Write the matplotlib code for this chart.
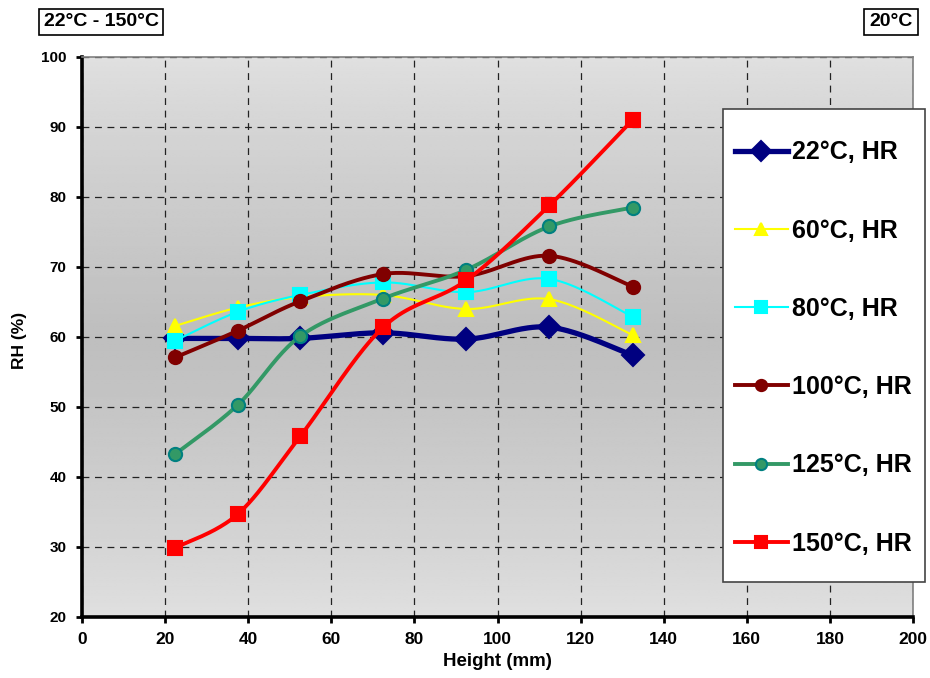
"""RH profiles vs. height for several chamber temperatures."""

import numpy as np
import matplotlib

matplotlib.use("Agg")
import matplotlib.pyplot as plt  # noqa: E402
from matplotlib import font_manager  # noqa: E402
from matplotlib.lines import Line2D  # noqa: E402
from matplotlib.patches import Rectangle  # noqa: E402

height_mm = [22.5, 37.5, 52.5, 72.5, 92.5, 112.5, 132.5]
rh_22 = [59.8, 59.8, 59.8, 60.6, 59.7, 61.4, 57.4]
rh_60 = [61.6, 64.2, 65.7, 66.0, 64.0, 65.4, 60.3]
rh_80 = [59.5, 63.6, 66.0, 67.8, 66.4, 68.3, 62.9]
rh_100 = [57.1, 60.9, 65.1, 69.0, 68.7, 71.6, 67.2]
rh_125 = [43.3, 50.3, 60.1, 65.5, 69.6, 75.8, 78.5]
rh_150 = [29.9, 34.7, 45.8, 61.4, 68.1, 78.8, 91.0]
series_labels = ["22°C, HR", "60°C, HR", "80°C, HR", "100°C, HR", "125°C, HR", "150°C, HR"]

x_ticks = list(range(0, 201, 20))
y_ticks = list(range(20, 101, 10))

# line colour, line width, marker, marker size, face, edge
styles = [
    dict(color="#000080", lw=3.8, marker="D", ms=11.5, mfc="#000080", mec="#000080"),
    dict(color="#ffff00", lw=1.5, marker="^", ms=10.5, mfc="#ffff00", mec="#ffff00"),
    dict(color="#00ffff", lw=1.5, marker="s", ms=9.5, mfc="#00ffff", mec="#00ffff"),
    dict(color="#800000", lw=2.8, marker="o", ms=9.5, mfc="#800000", mec="#800000"),
    dict(color="#339966", lw=2.8, marker="o", ms=9.5, mfc="#339966", mec="#008080"),
    dict(color="#ff0000", lw=2.8, marker="s", ms=9.5, mfc="#ff0000", mec="#ff0000"),
]


def pick_family(name, fallback="Liberation Sans"):
    try:
        font_manager.findfont(font_manager.FontProperties(family=name, weight="bold"),
                              fallback_to_default=False)
        return name
    except ValueError:
        return fallback


def smooth(x, y, steps=40):
    """Bezier smoothing through every point, tangents from neighbours."""
    p = np.column_stack([x, y]).astype(float)
    n = len(p)
    t = np.linspace(0, 1, steps)[1:, None]
    out = [p[:1]]
    for i in range(n - 1):
        p0 = p[max(i - 1, 0)]
        p1, p2 = p[i], p[i + 1]
        p3 = p[min(i + 2, n - 1)]
        c1 = p1 + (p2 - p0) / 6
        c2 = p2 - (p3 - p1) / 6
        seg = ((1 - t) ** 3 * p1 + 3 * (1 - t) ** 2 * t * c1
               + 3 * (1 - t) * t ** 2 * c2 + t ** 3 * p2)
        out.append(seg)
    out = np.vstack(out)
    return out[:, 0], out[:, 1]


sans = "Liberation Sans"
narrow = pick_family("Liberation Sans Narrow")
plt.rcParams["font.family"] = [sans, "DejaVu Sans"]

fig = plt.figure(figsize=(9.3, 6.78), dpi=100)
W, H = 930, 678
ax = fig.add_axes([82 / W, 1 - 617 / H, (913 - 82) / W, (617 - 57) / H])

# plot area fill: light at top and bottom, darker through the middle
t = np.linspace(0, 1, 256)
shade = 0.88 - 0.135 * (1 - np.abs(2 * t - 1)) ** 0.8
grad = np.repeat(shade[:, None], 2, axis=1)
ax.imshow(grad, extent=[0, 200, 20, 100], origin="lower", aspect="auto",
          cmap="gray", vmin=0, vmax=1, zorder=0, interpolation="bilinear")

ax.set_xlim(0, 200)
ax.set_ylim(20, 100)
ax.set_xticks(x_ticks)
ax.set_yticks(y_ticks)
ax.grid(True, color="#222222", linestyle=(0, (5.5, 4.5)), linewidth=0.9, zorder=1)
ax.set_axisbelow(True)

all_series = [rh_22, rh_60, rh_80, rh_100, rh_125, rh_150]
for k, (values, st) in enumerate(zip(all_series, styles)):
    xs, ys = smooth(height_mm, values)
    ax.plot(xs, ys, color=st["color"], lw=st["lw"], solid_capstyle="round", zorder=3 + 2 * k)
    ax.plot(height_mm, values, linestyle="none", marker=st["marker"], ms=st["ms"],
            mfc=st["mfc"], mec=st["mec"], mew=1.5, zorder=4 + 2 * k)

for side in ("top", "right"):
    ax.spines[side].set_color("#808080")
    ax.spines[side].set_linewidth(1.2)
for side in ("left", "bottom"):
    ax.spines[side].set_color("black")
    ax.spines[side].set_linewidth(2.6)

ax.tick_params(axis="both", direction="out", length=4, width=2, color="black", pad=7)
for lab in ax.get_yticklabels():
    lab.set_fontfamily(sans)
    lab.set_fontweight("bold")
    lab.set_fontsize(11)
for lab in ax.get_xticklabels():
    lab.set_fontfamily(narrow)
    lab.set_fontweight("bold")
    lab.set_fontsize(12.5)

ax.set_xlabel("Height (mm)", fontfamily=narrow, fontweight="bold", fontsize=13.5)
ax.xaxis.set_label_coords(0.5, -(662 - 617) / 560)
ax.xaxis.label.set_va("center")
ax.set_ylabel("RH (%)", fontfamily=sans, fontweight="bold", fontsize=12.5)
ax.yaxis.set_label_coords(-(82 - 20) / 831, 0.5 - (340 - 337) / 560)
ax.yaxis.label.set_va("center")

# legend box sits over the right edge of the plot area
fig.patches.append(Rectangle((723 / W, 1 - 582 / H), (925 - 723) / W, (582 - 109) / H,
                             transform=fig.transFigure, facecolor="white",
                             edgecolor="#444444", linewidth=1.2, zorder=5))
handles = [Line2D([], [], color=st["color"], lw=st["lw"], marker=st["marker"],
                  ms=st["ms"] * 0.85, mfc=st["mfc"], mec=st["mec"], mew=1.5)
           for st in styles]
leg = fig.legend(handles, series_labels, loc="center left",
                 bbox_to_anchor=(735 / W, 1 - 348 / H), frameon=False, numpoints=1,
                 prop=dict(family=sans, weight="bold", size=18),
                 handlelength=2.1, handletextpad=0.2, labelspacing=2.17,
                 borderpad=0, borderaxespad=0)
leg.set_zorder(6)

box = dict(boxstyle="square,pad=0.25", facecolor="white", edgecolor="black", linewidth=1.2)
fig.text(101 / W, 1 - 22 / H, "22°C - 150°C", ha="center", va="center",
         fontsize=14, fontweight="bold", bbox=box)
fig.text(891 / W, 1 - 22 / H, "20°C", ha="center", va="center",
         fontsize=14, fontweight="bold", bbox=box)

fig.savefig("out.png", dpi=100)
plt.close(fig)
